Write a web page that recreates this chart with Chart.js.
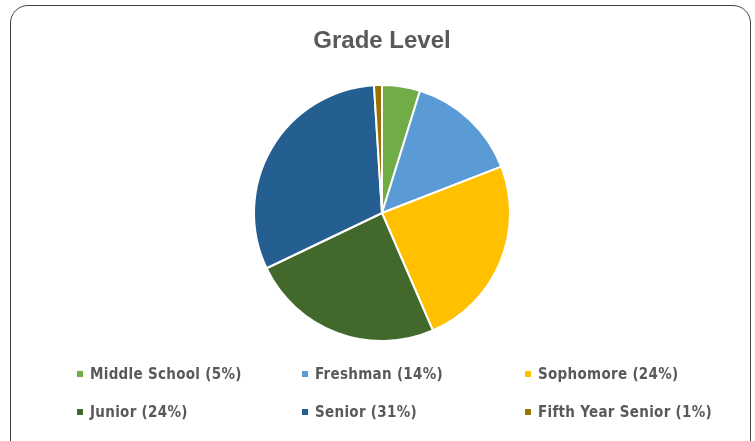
<!DOCTYPE html>
<html>
<head>
<meta charset="utf-8">
<script src="https://cdn.jsdelivr.net/npm/chart.js@4/dist/chart.umd.min.js"></script>
<style>
  html, body { margin: 0; padding: 0; background: #ffffff; }
  body { width: 755px; height: 441px; position: relative; overflow: hidden; font-family: "Liberation Sans", Arial, sans-serif; }
  #frame { position: absolute; left: 10px; top: 5px; width: 741px; height: 470px; border: 1.6px solid #404040; border-radius: 18px; box-sizing: border-box; }
  #wrap { position: absolute; left: 0; top: 0; width: 755px; height: 441px; }
  #legend { position: absolute; left: 77px; top: 355px; display: grid; grid-template-columns: 225px 223px 223px; grid-auto-rows: 38px; }
  .item { display: flex; align-items: center; font-family: "DejaVu Sans Condensed", "DejaVu Sans", sans-serif; font-stretch: condensed; font-size: 15px; letter-spacing: 0.3px; font-weight: bold; color: #595959; white-space: nowrap; }
  .sw { width: 6px; height: 6px; margin-right: 7px; flex: none; }
</style>
</head>
<body>
<div id="frame"></div>
<div id="wrap"><canvas id="c" width="755" height="441"></canvas></div>
<div id="legend"></div>
<script>
const titleText = "Grade Level";
const categories = ["Middle School", "Freshman", "Sophomore", "Junior", "Senior", "Fifth Year Senior"];
const values = [4.8, 14.3, 24.4, 24.4, 31.1, 1.0];
const colors = ["#70AD47", "#5B9BD5", "#FFC000", "#43682B", "#255E91", "#997300"];

const total = values.reduce((a, b) => a + b, 0);
const legendLabels = categories.map((c, i) => c + " (" + Math.round(values[i] / total * 100) + "%)");

const legendEl = document.getElementById("legend");
legendLabels.forEach((t, i) => {
  const it = document.createElement("div");
  it.className = "item";
  const sw = document.createElement("span");
  sw.className = "sw";
  sw.style.background = colors[i];
  it.appendChild(sw);
  it.appendChild(document.createTextNode(t));
  legendEl.appendChild(it);
});

new Chart(document.getElementById("c"), {
  type: "pie",
  data: {
    labels: categories,
    datasets: [{
      data: values,
      backgroundColor: colors,
      borderColor: "#ffffff",
      borderWidth: 2,
      radius: 128
    }]
  },
  options: {
    responsive: false,
    animation: false,
    layout: { padding: { left: 9, right: 0, top: 0, bottom: 99 } },
    plugins: {
      legend: { display: false },
      tooltip: { enabled: false },
      title: {
        display: true,
        text: titleText,
        color: "#595959",
        font: { family: "'Liberation Sans', Arial, sans-serif", size: 24, weight: "bold", lineHeight: 1.2 },
        padding: { top: 26.6, bottom: 28.6 }
      }
    }
  }
});
</script>
</body>
</html>
